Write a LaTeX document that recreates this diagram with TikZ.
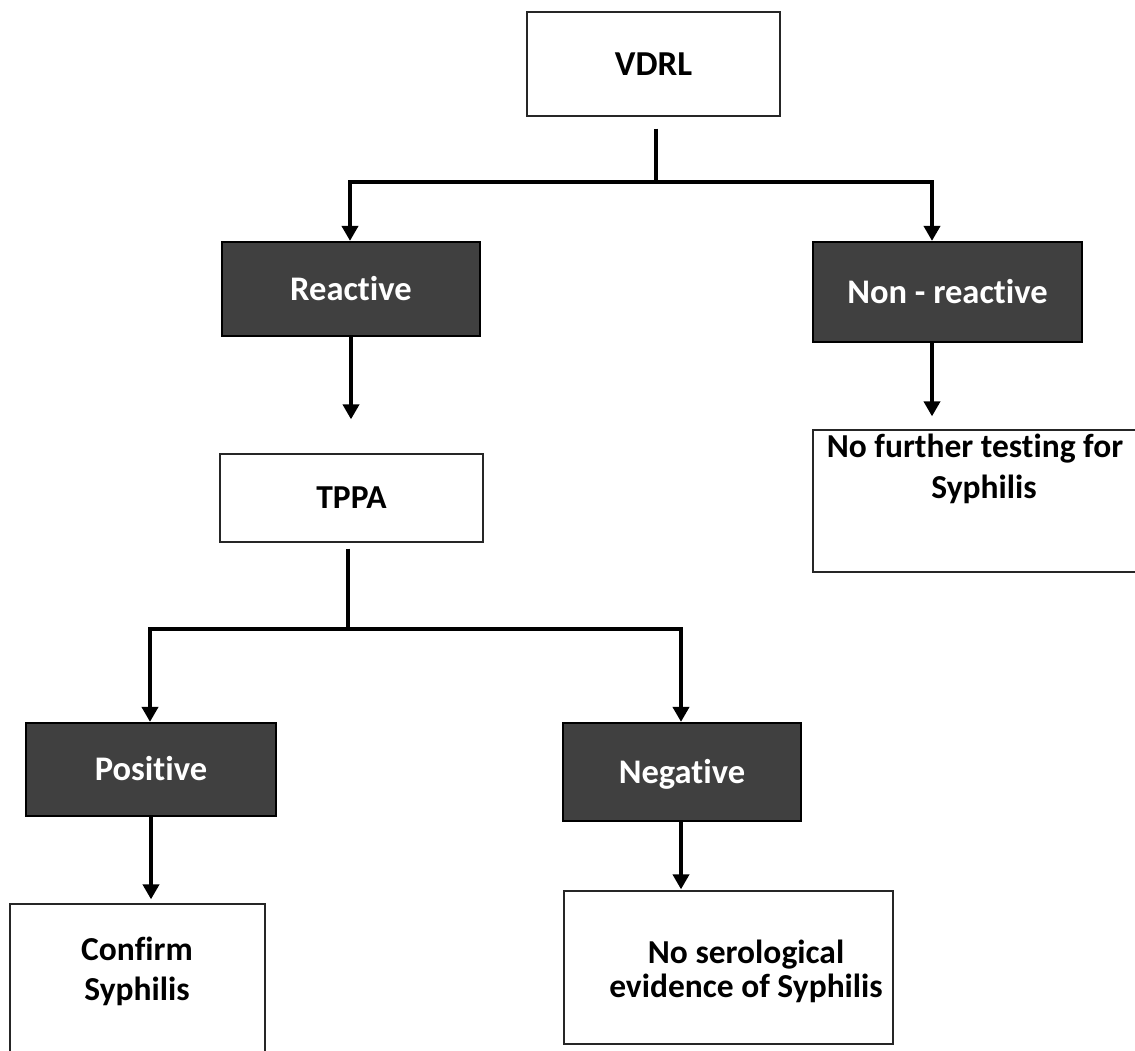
\documentclass[tikz,border=0pt]{standalone}
\usepackage{fontspec}
\setmainfont{Carlito}[Ligatures={NoCommon,NoRare}]
\usetikzlibrary{arrows.meta}
\definecolor{darkfill}{RGB}{64,64,64}
\begin{document}
\begin{tikzpicture}[x=1pt,y=-1pt,
  wbox/.style={draw=black!85, line width=1.3pt, fill=white, inner sep=0pt},
  dbox/.style={draw=black, line width=2.2pt, fill=darkfill, text=white, inner sep=0pt,
    font=\fontsize{34.5}{40}\selectfont\bfseries, text height=22pt, text depth=0pt},
  lbl/.style={font=\fontsize{33.5}{40}\selectfont\bfseries, inner sep=0pt, anchor=base},
  conn/.style={line width=4.2pt},
  arr/.style={line width=4.2pt, -{Triangle[width=16pt,length=15pt]}},
]
\useasboundingbox (0,0) rectangle (1135,1050);

% boxes
\node[wbox, minimum width=253pt, minimum height=104pt,
  font=\fontsize{35}{42}\selectfont\bfseries, text height=23pt, text depth=0pt]
  (vdrl) at (653.5,64) {VDRL};
\node[dbox, minimum width=258pt, minimum height=94pt] (react) at (351,289) {Reactive};
\node[dbox, minimum width=269pt, minimum height=100pt] (nonr) at (947.5,292) {Non - reactive};
\node[wbox, minimum width=263pt, minimum height=88pt,
  font=\fontsize{33.5}{40}\selectfont\bfseries, text height=21pt, text depth=0pt]
  (tppa) at (351.5,498) {TPPA};
\node[wbox, minimum width=326pt, minimum height=142pt] (nofur) at (976,501) {};
\node[dbox, minimum width=250pt, minimum height=93pt] (pos) at (151,769.5) {Positive};
\node[dbox, minimum width=238pt, minimum height=98pt] (neg) at (682,772) {Negative};
\node[wbox, minimum width=255pt, minimum height=160pt] (conf) at (137.5,984) {};
\node[wbox, minimum width=329pt, minimum height=153pt] (nosero) at (728.5,967.5) {};

% texts of the multi-line boxes
\node[lbl] (nf1) at (975,457) {No further testing for};
\node[lbl] (nf2) at (984,498) {Syphilis};
\node[lbl] (cf1) at (137,960) {Confirm};
\node[lbl] (cf2) at (137,1000) {Syphilis};
\node[lbl] (ns1) at (746,963) {No serological};
\node[lbl] (ns2) at (746,997) {evidence of Syphilis};

% junctions
\coordinate (j1) at (656,182);
\coordinate (bl) at (350,182);
\coordinate (br) at (932,182);
\coordinate (j2) at (348,629);
\coordinate (cl) at (150,629);
\coordinate (cr) at (681,629);

% connectors
\draw[conn, shorten <=12pt] (vdrl.south -| j1) -- (j1);
\draw[arr] (j1) -| (bl |- react.north);
\draw[arr] (j1) -| (br |- nonr.north);
\draw[arr, shorten >=34pt] (react.south) -- (react.south |- tppa.north);
\draw[arr, shorten >=13pt] (nonr.south -| br) -- (br |- nofur.north);
\draw[conn, shorten <=6pt] (tppa.south -| j2) -- (j2);
\draw[arr] (j2) -| (cl |- pos.north);
\draw[arr] (j2) -| (cr |- neg.north);
\draw[arr, shorten >=4pt] (pos.south) -- (pos.south |- conf.north);
\draw[arr, shorten >=1pt] (neg.south -| cr) -- (cr |- nosero.north);
\end{tikzpicture}
\end{document}
